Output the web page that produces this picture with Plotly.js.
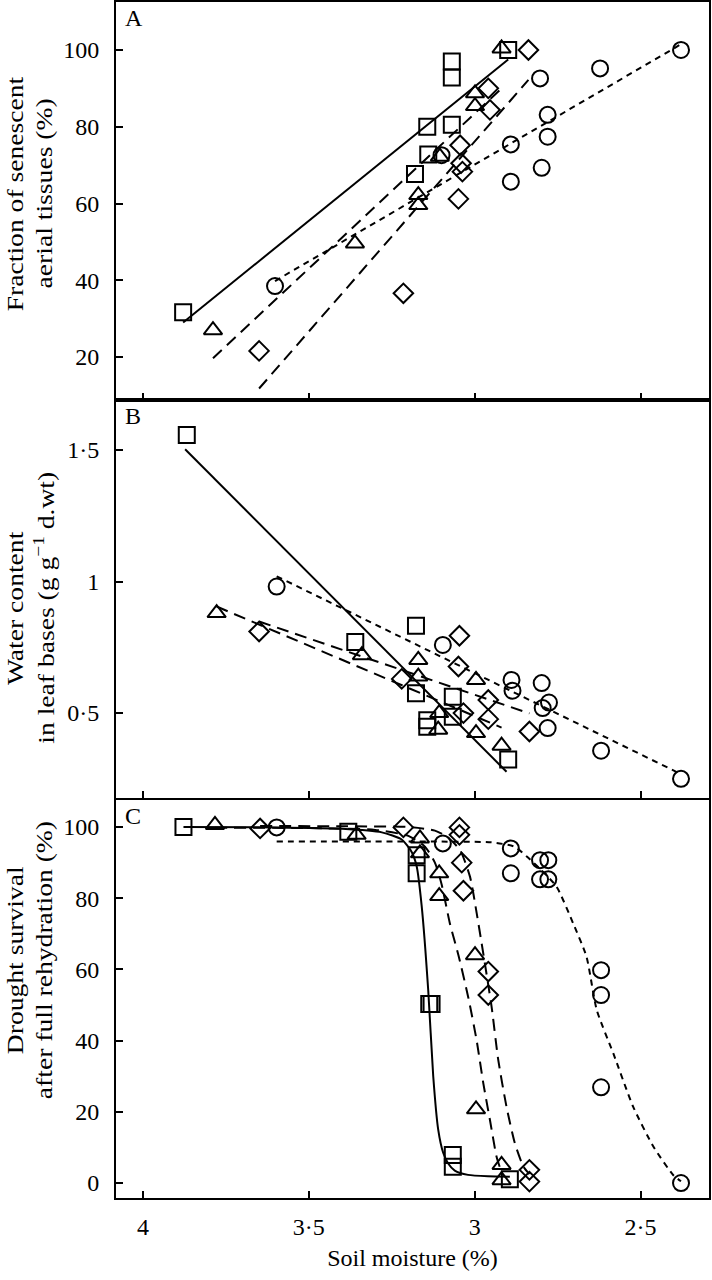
<!DOCTYPE html>
<html>
<head>
<meta charset="utf-8">
<script src="https://cdn.plot.ly/plotly-3.0.1.min.js"></script>
<style>html,body{margin:0;padding:0;background:#fff;}#chart{width:712px;height:1280px;}</style>
</head>
<body>
<div id="chart"></div>
<script>
// ---------- axis ticks ----------
const xTickVals = [4, 3.5, 3, 2.5];
const xTickText = ['4', '3·5', '3', '2·5'];
const aTickVals = [20, 40, 60, 80, 100];
const bTickVals = [0.5, 1, 1.5];
const bTickText = ['0·5', '1', '1·5'];
const cTickVals = [0, 20, 40, 60, 80, 100];

// ---------- Panel A: fraction of senescent aerial tissues (%) ----------
const aSqX  = [3.879, 3.18, 3.14, 3.143, 3.069, 3.069, 3.069, 2.899];
const aSqY  = [31.7, 67.7, 72.8, 80.0, 97.0, 92.8, 80.5, 100];
const aTriX = [3.789, 3.361, 3.17, 3.17, 3.105, 2.999, 2.999, 2.919];
const aTriY = [27.0, 49.6, 62.2, 59.6, 72.2, 88.7, 85.4, 100.4];
const aCirX = [3.602, 3.100, 2.891, 2.891, 2.803, 2.798, 2.780, 2.780, 2.622, 2.378];
const aCirY = [38.5, 72.6, 75.4, 65.7, 92.6, 69.3, 83.1, 77.4, 95.2, 100];
const aDiaX = [3.650, 3.215, 3.049, 3.044, 3.041, 3.037, 2.959, 2.954, 2.838];
const aDiaY = [21.6, 36.6, 61.2, 75.2, 70.5, 68.3, 90.0, 84.4, 100];
// fitted lines (end points)
const aSqFitX = [3.879, 2.899],  aSqFitY = [29.0, 97.5];
const aTriFitX = [3.789, 2.919], aTriFitY = [19.7, 90.0];
const aCirFitX = [3.602, 2.378], aCirFitY = [39.8, 101.5];
const aDiaFitX = [3.650, 2.838], aDiaFitY = [11.8, 92.2];

// ---------- Panel B: water content in leaf bases ----------
const bSqX  = [3.868, 3.36, 3.177, 3.177, 3.143, 3.143, 3.066, 3.066, 2.899];
const bSqY  = [1.557, 0.77, 0.832, 0.575, 0.473, 0.448, 0.562, 0.486, 0.324];
const bTriX = [3.778, 3.34, 3.17, 3.17, 3.107, 3.11, 2.996, 2.996, 2.919];
const bTriY = [0.88, 0.72, 0.702, 0.639, 0.500, 0.437, 0.626, 0.424, 0.376];
const bCirX = [3.597, 3.096, 2.889, 2.886, 2.798, 2.776, 2.795, 2.780, 2.619, 2.378];
const bCirY = [0.981, 0.759, 0.626, 0.585, 0.614, 0.540, 0.519, 0.443, 0.357, 0.250];
const bDiaX = [3.65, 3.22, 3.046, 3.049, 3.034, 2.959, 2.959, 2.835];
const bDiaY = [0.81, 0.63, 0.794, 0.677, 0.500, 0.550, 0.477, 0.430];
const bSqFitX = [3.873, 2.904],  bSqFitY = [1.503, 0.277];
const bTriFitX = [3.778, 2.919], bTriFitY = [0.905, 0.445];
const bCirFitX = [3.597, 2.378], bCirFitY = [1.02, 0.268];
const bDiaFitX = [3.650, 2.835], bDiaFitY = [0.848, 0.499];

// ---------- Panel C: drought survival after full rehydration (%) ----------
const cSqX  = [3.878, 3.381, 3.175, 3.175, 3.137, 3.130, 3.066, 3.066, 2.894];
const cSqY  = [100, 98.7, 92.1, 87.0, 50.3, 50.3, 7.9, 4.6, 1.1];
const cTriX = [3.783, 3.356, 3.165, 3.165, 3.107, 3.107, 2.999, 2.996, 2.919, 2.919];
const cTriY = [100.6, 97.8, 96.8, 92.6, 87.0, 80.6, 64.0, 20.7, 5.1, 0.8];
const cDiaX = [3.647, 3.215, 3.046, 3.046, 3.039, 3.034, 2.959, 2.959, 2.835, 2.835];
const cDiaY = [99.6, 99.9, 99.9, 97.8, 90.0, 82.1, 59.4, 52.8, 3.7, 0.4];
const cCirX = [3.597, 3.096, 2.891, 2.891, 2.803, 2.778, 2.803, 2.778, 2.619, 2.619, 2.619, 2.378];
const cCirY = [99.9, 95.4, 94.0, 87.0, 90.7, 90.7, 85.3, 85.3, 59.8, 52.8, 26.9, 0];
// fitted sigmoid curves
const cSqFitX  = [3.878, 3.6, 3.4, 3.28, 3.22, 3.19, 3.175, 3.16, 3.14, 3.125, 3.11, 3.095, 3.08, 3.06, 3.02, 2.96, 2.894];
const cSqFitY  = [100, 99.9, 99.5, 98.5, 96.5, 93, 89, 78, 54, 30, 15, 8.5, 5.5, 3.5, 2.3, 1.9, 1.8];
const cTriFitX = [3.783, 3.5, 3.3, 3.2, 3.15, 3.12, 3.1, 3.075, 3.049, 3.019, 2.994, 2.974, 2.954, 2.934, 2.919];
const cTriFitY = [99.8, 99.7, 99.2, 97.5, 94.5, 90, 84, 73, 64, 52, 40, 28, 17.7, 7.4, 3];
const cDiaFitX = [3.647, 3.4, 3.2, 3.12, 3.08, 3.044, 3.014, 2.994, 2.979, 2.949, 2.929, 2.904, 2.879, 2.853, 2.835];
const cDiaFitY = [100.3, 100.2, 100, 99, 97, 93.5, 86, 75.8, 67.3, 49.5, 34.6, 21.4, 11.2, 4.6, 2.5];
const cCirFitX = [3.597, 3.3, 3.1, 2.95, 2.88, 2.843, 2.8, 2.753, 2.703, 2.663, 2.632, 2.582, 2.522, 2.461, 2.401, 2.378];
const cCirFitY = [95.9, 95.9, 95.9, 95.7, 94.5, 91.7, 88, 83.2, 72.9, 63.6, 48.6, 36.4, 21.4, 10.2, 2.2, 0.5];

// ---------- styles ----------
const FONT = '"Liberation Serif", "Times New Roman", Times, serif';
const BLACK = '#000';
const LONG = '12px,7px';
const SHORT = '6px,5px';
function pts(x, y, symbol, xa, ya) {
  return {x: x, y: y, xaxis: xa, yaxis: ya, mode: 'markers', type: 'scatter', showlegend: false,
    marker: {symbol: symbol, size: symbol.indexOf('diamond') === 0 ? 15 : 16, color: BLACK, line: {color: BLACK, width: 2}}};
}
function fit(x, y, dash, xa, ya, smooth) {
  return {x: x, y: y, xaxis: xa, yaxis: ya, mode: 'lines', type: 'scatter', showlegend: false,
    line: {color: BLACK, width: 2, dash: dash, shape: smooth ? 'spline' : 'linear', smoothing: 0.6}};
}

const data = [
  // A
  fit(aSqFitX, aSqFitY, 'solid', 'x3', 'y'),
  fit(aTriFitX, aTriFitY, LONG, 'x3', 'y'),
  fit(aDiaFitX, aDiaFitY, LONG, 'x3', 'y'),
  fit(aCirFitX, aCirFitY, SHORT, 'x3', 'y'),
  pts(aSqX, aSqY, 'square-open', 'x3', 'y'),
  pts(aTriX, aTriY, 'triangle-up-open', 'x3', 'y'),
  pts(aCirX, aCirY, 'circle-open', 'x3', 'y'),
  pts(aDiaX, aDiaY, 'diamond-open', 'x3', 'y'),
  // B
  fit(bSqFitX, bSqFitY, 'solid', 'x2', 'y2'),
  fit(bTriFitX, bTriFitY, LONG, 'x2', 'y2'),
  fit(bDiaFitX, bDiaFitY, LONG, 'x2', 'y2'),
  fit(bCirFitX, bCirFitY, SHORT, 'x2', 'y2'),
  pts(bSqX, bSqY, 'square-open', 'x2', 'y2'),
  pts(bTriX, bTriY, 'triangle-up-open', 'x2', 'y2'),
  pts(bCirX, bCirY, 'circle-open', 'x2', 'y2'),
  pts(bDiaX, bDiaY, 'diamond-open', 'x2', 'y2'),
  // C
  fit(cSqFitX, cSqFitY, 'solid', 'x', 'y3', true),
  fit(cTriFitX, cTriFitY, LONG, 'x', 'y3', true),
  fit(cDiaFitX, cDiaFitY, LONG, 'x', 'y3', true),
  fit(cCirFitX, cCirFitY, SHORT, 'x', 'y3', true),
  pts(cSqX, cSqY, 'square-open', 'x', 'y3'),
  pts(cTriX, cTriY, 'triangle-up-open', 'x', 'y3'),
  pts(cCirX, cCirY, 'circle-open', 'x', 'y3'),
  pts(cDiaX, cDiaY, 'diamond-open', 'x', 'y3')
];

const tickFont = {family: FONT, size: 24, color: BLACK};
const xBase = {
  range: [4.0814, 2.2936], autorange: false, showline: true, linecolor: BLACK, linewidth: 2, mirror: true,
  ticks: 'inside', ticklen: 7, tickwidth: 2, tickcolor: BLACK, tickvals: xTickVals, ticktext: xTickText,
  showgrid: false, zeroline: false, tickfont: tickFont, fixedrange: true
};
const yBase = {
  autorange: false, showline: true, linecolor: BLACK, linewidth: 2, mirror: true,
  ticks: 'inside', ticklen: 7, tickwidth: 2, tickcolor: BLACK,
  showgrid: false, zeroline: false, tickfont: tickFont, ticklabelstandoff: 10, fixedrange: true
};

const titleFont = {family: FONT, size: 24, color: BLACK};
const PLOT_LEFT = 116;
function yLine(text, xc, yc) {
  return {text: text, xref: 'paper', yref: 'paper', x: 0, y: yc, xshift: xc - PLOT_LEFT, xanchor: 'center', yanchor: 'middle',
    textangle: -90, showarrow: false, font: titleFont, align: 'center', name: 'ytitle'};
}
function letter(text, ytop) {
  return {text: text, xref: 'paper', yref: 'paper', x: 0, y: ytop, xshift: 7, yshift: -1, xanchor: 'left', yanchor: 'top',
    showarrow: false, font: {family: FONT, size: 24, color: BLACK}};
}
function py(row) { return (1198 - row) / 1196; }

const layout = {
  width: 712, height: 1280,
  margin: {l: 116, r: 3, t: 2, b: 82},
  paper_bgcolor: '#fff', plot_bgcolor: '#fff',
  font: {family: FONT, size: 24, color: BLACK},
  showlegend: false,
  xaxis: Object.assign({}, xBase, {anchor: 'y3', ticklabelstandoff: 6,
    title: {text: 'Soil moisture (%)', font: titleFont, standoff: 10}}),
  xaxis2: Object.assign({}, xBase, {anchor: 'y2', showticklabels: false}),
  xaxis3: Object.assign({}, xBase, {anchor: 'y', showticklabels: false}),
  yaxis: Object.assign({}, yBase, {domain: [0.6672, 1], anchor: 'x3', range: [8.8, 112.5], tickvals: aTickVals}),
  yaxis2: Object.assign({}, yBase, {domain: [0.3344, 0.6672], anchor: 'x2', range: [0.177, 1.69], tickvals: bTickVals, ticktext: bTickText}),
  yaxis3: Object.assign({}, yBase, {domain: [0, 0.3328], anchor: 'x', range: [-4.2, 107.6], tickvals: cTickVals}),
  annotations: [
    yLine('Fraction of senescent', 15, py(194)),
    yLine('aerial tissues (%)', 44, py(194)),
    yLine('Water content', 15, py(608)),
    yLine('in leaf bases (g g<sup>−1</sup> d.wt)', 44, py(608)),
    yLine('Drought survival', 15, py(960)),
    yLine('after full rehydration (%)', 44, py(960)),
    letter('A', 1),
    letter('B', 0.6672),
    letter('C', 0.3328)
  ]
};

Plotly.newPlot('chart', data, layout, {staticPlot: true, displayModeBar: false}).then(function (gd) {
  // the reference's rotated axis titles run a little longer than the plain font: stretch them along their baseline
  const STRETCH = 1.15;
  gd.querySelectorAll('.annotation-text').forEach(function (t) {
    const s = t.textContent;
    if (/senescent|aerial|Water|leaf|Drought|rehydration/.test(s)) {
      const len = t.getComputedTextLength();
      t.setAttribute('textLength', (len * STRETCH).toFixed(1));
      t.setAttribute('lengthAdjust', 'spacingAndGlyphs');
    }
  });
});
</script>
</body>
</html>
